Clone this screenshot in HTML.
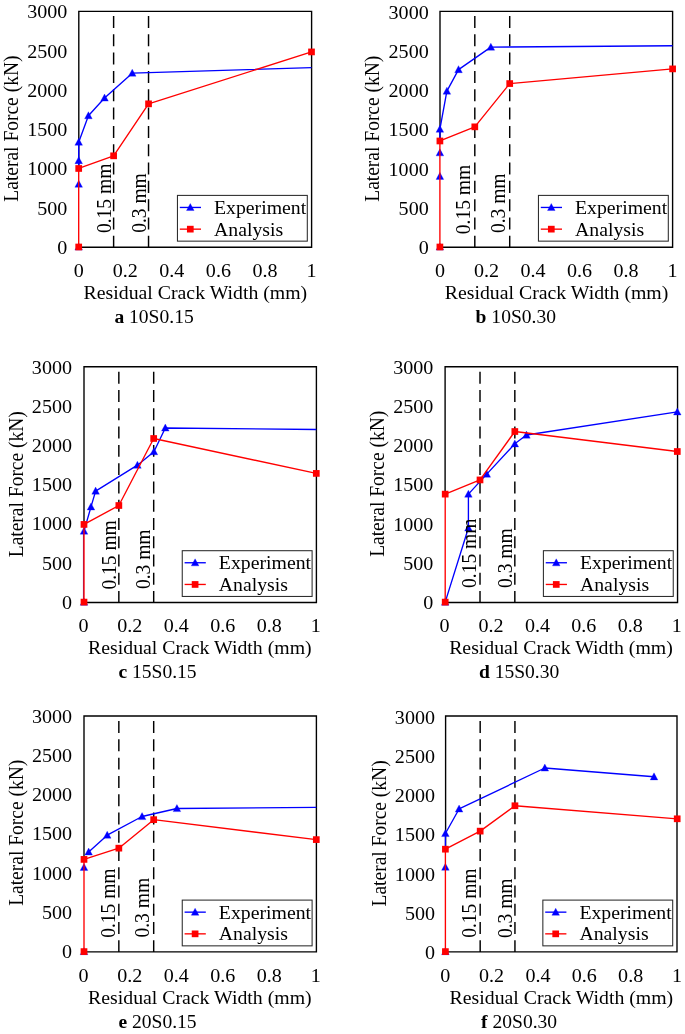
<!DOCTYPE html>
<html><head><meta charset="utf-8"><title>Figure</title>
<style>
html,body{margin:0;padding:0;background:#fff;}
svg{display:block;}
text{font-family:"Liberation Serif",serif;font-size:20px;fill:#000;}
</style></head><body>
<svg width="685" height="1034" viewBox="0 0 685 1034" style="will-change:transform">
<rect width="685" height="1034" fill="#fff"/>
<g id="panel-a">
<path d="M78.8 168.47 V11.4 H311.6 V247.2 H78.8" fill="none" stroke="#000" stroke-width="1.38" stroke-linejoin="miter"/>
<line x1="113.62" y1="15.9" x2="113.62" y2="247.2" stroke="#000" stroke-width="1.45" stroke-dasharray="12.01 6.32"/>
<line x1="148.54" y1="15.9" x2="148.54" y2="247.2" stroke="#000" stroke-width="1.45" stroke-dasharray="12.01 6.32"/>
<polyline points="78.7,168.47 78.7,160.61 78.7,142.16 88.41,115.69 104.54,98.02 132.24,73.13 311.5,67.63" fill="none" stroke="#0000ff" stroke-width="1.35" stroke-linejoin="round"/>
<path d="M74.9 250.1 L82.5 250.1 L78.7 243.05 Z" fill="#0000ff" stroke="#0000ff" stroke-width="0.3" stroke-linejoin="round"/>
<path d="M74.9 187.27 L82.5 187.27 L78.7 180.22 Z" fill="#0000ff" stroke="#0000ff" stroke-width="0.3" stroke-linejoin="round"/>
<path d="M74.9 163.71 L82.5 163.71 L78.7 156.66 Z" fill="#0000ff" stroke="#0000ff" stroke-width="0.3" stroke-linejoin="round"/>
<path d="M74.9 145.26 L82.5 145.26 L78.7 138.21 Z" fill="#0000ff" stroke="#0000ff" stroke-width="0.3" stroke-linejoin="round"/>
<path d="M84.61 118.79 L92.21 118.79 L88.41 111.74 Z" fill="#0000ff" stroke="#0000ff" stroke-width="0.3" stroke-linejoin="round"/>
<path d="M100.74 101.12 L108.34 101.12 L104.54 94.07 Z" fill="#0000ff" stroke="#0000ff" stroke-width="0.3" stroke-linejoin="round"/>
<path d="M128.44 76.23 L136.04 76.23 L132.24 69.18 Z" fill="#0000ff" stroke="#0000ff" stroke-width="0.3" stroke-linejoin="round"/>
<polyline points="78.7,247 78.7,168.47 113.62,155.82 148.54,103.83 311.5,51.92" fill="none" stroke="#ff0000" stroke-width="1.35" stroke-linejoin="round"/>
<rect x="75.35" y="243.65" width="6.7" height="6.7" fill="#ff0000"/>
<rect x="75.35" y="165.12" width="6.7" height="6.7" fill="#ff0000"/>
<rect x="110.27" y="152.47" width="6.7" height="6.7" fill="#ff0000"/>
<rect x="145.19" y="100.48" width="6.7" height="6.7" fill="#ff0000"/>
<rect x="308.15" y="48.57" width="6.7" height="6.7" fill="#ff0000"/>
<text transform="translate(110.82 233) rotate(-90) scale(1 1.045)" style="font-size:19.5px">0.15 mm</text>
<text transform="translate(145.54 232.8) rotate(-90) scale(1 1.045)" style="font-size:19.5px">0.3 mm</text>
<rect x="177.45" y="195.4" width="129.85" height="45.75" fill="#fff" stroke="#2a2a2a" stroke-width="1.05"/>
<line x1="179.8" y1="207.45" x2="201" y2="207.45" stroke="#0000ff" stroke-width="1.35"/>
<path d="M186.5 210.55 L194.1 210.55 L190.3 203.5 Z" fill="#0000ff" stroke="#0000ff" stroke-width="0.3" stroke-linejoin="round"/>
<line x1="179.8" y1="229.15" x2="201" y2="229.15" stroke="#ff0000" stroke-width="1.35"/>
<rect x="186.95" y="225.8" width="6.7" height="6.7" fill="#ff0000"/>
<text transform="translate(214 214.1) scale(1.03 1)" style="font-size:19.2px">Experiment</text>
<text transform="translate(214 235.75) scale(1.03 1)" style="font-size:19.2px">Analysis</text>
<text transform="translate(67.3 253.95) scale(1.03 1)" text-anchor="end" style="font-size:19.5px">0</text>
<text transform="translate(67.3 214.68) scale(1.03 1)" text-anchor="end" style="font-size:19.5px">500</text>
<text transform="translate(67.3 175.42) scale(1.03 1)" text-anchor="end" style="font-size:19.5px">1000</text>
<text transform="translate(67.3 136.15) scale(1.03 1)" text-anchor="end" style="font-size:19.5px">1500</text>
<text transform="translate(67.3 96.88) scale(1.03 1)" text-anchor="end" style="font-size:19.5px">2000</text>
<text transform="translate(67.3 57.62) scale(1.03 1)" text-anchor="end" style="font-size:19.5px">2500</text>
<text transform="translate(67.3 18.35) scale(1.03 1)" text-anchor="end" style="font-size:19.5px">3000</text>
<text transform="translate(78.7 276.5) scale(1.03 1)" text-anchor="middle" style="font-size:19.5px">0</text>
<text transform="translate(125.26 276.5) scale(1.03 1)" text-anchor="middle" style="font-size:19.5px">0.2</text>
<text transform="translate(171.82 276.5) scale(1.03 1)" text-anchor="middle" style="font-size:19.5px">0.4</text>
<text transform="translate(218.38 276.5) scale(1.03 1)" text-anchor="middle" style="font-size:19.5px">0.6</text>
<text transform="translate(264.94 276.5) scale(1.03 1)" text-anchor="middle" style="font-size:19.5px">0.8</text>
<text transform="translate(311.5 276.5) scale(1.03 1)" text-anchor="middle" style="font-size:19.5px">1</text>
<text transform="translate(195.4 298.7) scale(1.03 1)" text-anchor="middle" style="font-size:19.22px">Residual Crack Width (mm)</text>
<text transform="translate(17.7 128.6) rotate(-90) scale(1 1.045)" text-anchor="middle" style="font-size:19.5px">Lateral Force (kN)</text>
<text transform="translate(114.4 322.6) scale(1.03 1)" style="font-size:19.0px"><tspan font-weight="bold">a</tspan> 10S0.15</text>
</g>
<g id="panel-b">
<path d="M440 140.98 V11.4 H672.6 V247.2 H440" fill="none" stroke="#000" stroke-width="1.38" stroke-linejoin="miter"/>
<line x1="474.81" y1="15.9" x2="474.81" y2="247.2" stroke="#000" stroke-width="1.45" stroke-dasharray="12.01 6.32"/>
<line x1="509.71" y1="15.9" x2="509.71" y2="247.2" stroke="#000" stroke-width="1.45" stroke-dasharray="12.01 6.32"/>
<polyline points="439.9,140.98 439.9,129.2 446.88,91.11 458.52,69.59 490.86,47.13 672.6,45.72" fill="none" stroke="#0000ff" stroke-width="1.35" stroke-linejoin="round"/>
<path d="M436.1 250.1 L443.7 250.1 L439.9 243.05 Z" fill="#0000ff" stroke="#0000ff" stroke-width="0.3" stroke-linejoin="round"/>
<path d="M436.1 179.42 L443.7 179.42 L439.9 172.37 Z" fill="#0000ff" stroke="#0000ff" stroke-width="0.3" stroke-linejoin="round"/>
<path d="M436.1 155.86 L443.7 155.86 L439.9 148.81 Z" fill="#0000ff" stroke="#0000ff" stroke-width="0.3" stroke-linejoin="round"/>
<path d="M436.1 132.3 L443.7 132.3 L439.9 125.25 Z" fill="#0000ff" stroke="#0000ff" stroke-width="0.3" stroke-linejoin="round"/>
<path d="M443.08 94.21 L450.68 94.21 L446.88 87.16 Z" fill="#0000ff" stroke="#0000ff" stroke-width="0.3" stroke-linejoin="round"/>
<path d="M454.72 72.69 L462.32 72.69 L458.52 65.64 Z" fill="#0000ff" stroke="#0000ff" stroke-width="0.3" stroke-linejoin="round"/>
<path d="M487.06 50.23 L494.66 50.23 L490.86 43.18 Z" fill="#0000ff" stroke="#0000ff" stroke-width="0.3" stroke-linejoin="round"/>
<polyline points="439.9,247 439.9,140.98 474.81,126.84 509.71,83.57 672.6,68.89" fill="none" stroke="#ff0000" stroke-width="1.35" stroke-linejoin="round"/>
<rect x="436.55" y="243.65" width="6.7" height="6.7" fill="#ff0000"/>
<rect x="436.55" y="137.63" width="6.7" height="6.7" fill="#ff0000"/>
<rect x="471.45" y="123.49" width="6.7" height="6.7" fill="#ff0000"/>
<rect x="506.36" y="80.22" width="6.7" height="6.7" fill="#ff0000"/>
<rect x="669.25" y="65.54" width="6.7" height="6.7" fill="#ff0000"/>
<text transform="translate(470.2 234.2) rotate(-90) scale(1 1.045)" style="font-size:19.5px">0.15 mm</text>
<text transform="translate(504.51 233.1) rotate(-90) scale(1 1.045)" style="font-size:19.5px">0.3 mm</text>
<rect x="538.45" y="195.4" width="129.85" height="45.75" fill="#fff" stroke="#2a2a2a" stroke-width="1.05"/>
<line x1="540.8" y1="207.45" x2="562" y2="207.45" stroke="#0000ff" stroke-width="1.35"/>
<path d="M547.5 210.55 L555.1 210.55 L551.3 203.5 Z" fill="#0000ff" stroke="#0000ff" stroke-width="0.3" stroke-linejoin="round"/>
<line x1="540.8" y1="229.15" x2="562" y2="229.15" stroke="#ff0000" stroke-width="1.35"/>
<rect x="547.95" y="225.8" width="6.7" height="6.7" fill="#ff0000"/>
<text transform="translate(575 214.1) scale(1.03 1)" style="font-size:19.2px">Experiment</text>
<text transform="translate(575 235.75) scale(1.03 1)" style="font-size:19.2px">Analysis</text>
<text transform="translate(428.7 254.2) scale(1.03 1)" text-anchor="end" style="font-size:19.5px">0</text>
<text transform="translate(428.7 214.93) scale(1.03 1)" text-anchor="end" style="font-size:19.5px">500</text>
<text transform="translate(428.7 175.67) scale(1.03 1)" text-anchor="end" style="font-size:19.5px">1000</text>
<text transform="translate(428.7 136.4) scale(1.03 1)" text-anchor="end" style="font-size:19.5px">1500</text>
<text transform="translate(428.7 97.13) scale(1.03 1)" text-anchor="end" style="font-size:19.5px">2000</text>
<text transform="translate(428.7 57.87) scale(1.03 1)" text-anchor="end" style="font-size:19.5px">2500</text>
<text transform="translate(428.7 18.6) scale(1.03 1)" text-anchor="end" style="font-size:19.5px">3000</text>
<text transform="translate(439.9 276.5) scale(1.03 1)" text-anchor="middle" style="font-size:19.5px">0</text>
<text transform="translate(486.44 276.5) scale(1.03 1)" text-anchor="middle" style="font-size:19.5px">0.2</text>
<text transform="translate(532.98 276.5) scale(1.03 1)" text-anchor="middle" style="font-size:19.5px">0.4</text>
<text transform="translate(579.52 276.5) scale(1.03 1)" text-anchor="middle" style="font-size:19.5px">0.6</text>
<text transform="translate(626.06 276.5) scale(1.03 1)" text-anchor="middle" style="font-size:19.5px">0.8</text>
<text transform="translate(672.6 276.5) scale(1.03 1)" text-anchor="middle" style="font-size:19.5px">1</text>
<text transform="translate(556.55 298.7) scale(1.03 1)" text-anchor="middle" style="font-size:19.22px">Residual Crack Width (mm)</text>
<text transform="translate(378.9 128.7) rotate(-90) scale(1 1.045)" text-anchor="middle" style="font-size:19.5px">Lateral Force (kN)</text>
<text transform="translate(475.6 322.6) scale(1.03 1)" style="font-size:19.0px"><tspan font-weight="bold">b</tspan> 10S0.30</text>
</g>
<g id="panel-c">
<path d="M84 524.42 V366.7 H316.4 V602.5 H84" fill="none" stroke="#000" stroke-width="1.38" stroke-linejoin="miter"/>
<line x1="118.84" y1="371.8" x2="118.84" y2="602.5" stroke="#000" stroke-width="1.45" stroke-dasharray="11.97 6.3"/>
<line x1="153.69" y1="371.8" x2="153.69" y2="602.5" stroke="#000" stroke-width="1.45" stroke-dasharray="11.97 6.3"/>
<line x1="83.45" y1="602.1" x2="83.45" y2="531.09" stroke="#3a0a8a" stroke-width="0.9"/>
<polyline points="84,531.09 90.97,506.92 95.62,491.07 137.43,465.18 153.92,451.68 165.31,427.98 316.3,429.47" fill="none" stroke="#0000ff" stroke-width="1.35" stroke-linejoin="round"/>
<path d="M80.2 605.2 L87.8 605.2 L84 598.15 Z" fill="#0000ff" stroke="#0000ff" stroke-width="0.3" stroke-linejoin="round"/>
<path d="M80.2 534.19 L87.8 534.19 L84 527.14 Z" fill="#0000ff" stroke="#0000ff" stroke-width="0.3" stroke-linejoin="round"/>
<path d="M87.17 510.02 L94.77 510.02 L90.97 502.97 Z" fill="#0000ff" stroke="#0000ff" stroke-width="0.3" stroke-linejoin="round"/>
<path d="M91.82 494.17 L99.42 494.17 L95.62 487.12 Z" fill="#0000ff" stroke="#0000ff" stroke-width="0.3" stroke-linejoin="round"/>
<path d="M133.63 468.28 L141.23 468.28 L137.43 461.23 Z" fill="#0000ff" stroke="#0000ff" stroke-width="0.3" stroke-linejoin="round"/>
<path d="M150.12 454.78 L157.72 454.78 L153.92 447.73 Z" fill="#0000ff" stroke="#0000ff" stroke-width="0.3" stroke-linejoin="round"/>
<path d="M161.5 431.08 L169.11 431.08 L165.31 424.03 Z" fill="#0000ff" stroke="#0000ff" stroke-width="0.3" stroke-linejoin="round"/>
<polyline points="84,602.1 84,524.42 118.84,505.51 153.69,438.5 316.3,473.41" fill="none" stroke="#ff0000" stroke-width="1.35" stroke-linejoin="round"/>
<rect x="80.65" y="598.75" width="6.7" height="6.7" fill="#ff0000"/>
<rect x="80.65" y="521.07" width="6.7" height="6.7" fill="#ff0000"/>
<rect x="115.5" y="502.16" width="6.7" height="6.7" fill="#ff0000"/>
<rect x="150.34" y="435.15" width="6.7" height="6.7" fill="#ff0000"/>
<rect x="312.95" y="470.06" width="6.7" height="6.7" fill="#ff0000"/>
<text transform="translate(116.14 589.6) rotate(-90) scale(1 1.045)" style="font-size:19.5px">0.15 mm</text>
<text transform="translate(150.29 589.1) rotate(-90) scale(1 1.045)" style="font-size:19.5px">0.3 mm</text>
<rect x="182.25" y="550.7" width="129.85" height="45.75" fill="#fff" stroke="#2a2a2a" stroke-width="1.05"/>
<line x1="184.6" y1="562.75" x2="205.8" y2="562.75" stroke="#0000ff" stroke-width="1.35"/>
<path d="M191.3 565.85 L198.9 565.85 L195.1 558.8 Z" fill="#0000ff" stroke="#0000ff" stroke-width="0.3" stroke-linejoin="round"/>
<line x1="184.6" y1="584.45" x2="205.8" y2="584.45" stroke="#ff0000" stroke-width="1.35"/>
<rect x="191.75" y="581.1" width="6.7" height="6.7" fill="#ff0000"/>
<text transform="translate(218.8 569.4) scale(1.03 1)" style="font-size:19.2px">Experiment</text>
<text transform="translate(218.8 591.05) scale(1.03 1)" style="font-size:19.2px">Analysis</text>
<text transform="translate(72 608.9) scale(1.03 1)" text-anchor="end" style="font-size:19.5px">0</text>
<text transform="translate(72 569.67) scale(1.03 1)" text-anchor="end" style="font-size:19.5px">500</text>
<text transform="translate(72 530.43) scale(1.03 1)" text-anchor="end" style="font-size:19.5px">1000</text>
<text transform="translate(72 491.2) scale(1.03 1)" text-anchor="end" style="font-size:19.5px">1500</text>
<text transform="translate(72 451.97) scale(1.03 1)" text-anchor="end" style="font-size:19.5px">2000</text>
<text transform="translate(72 412.73) scale(1.03 1)" text-anchor="end" style="font-size:19.5px">2500</text>
<text transform="translate(72 373.5) scale(1.03 1)" text-anchor="end" style="font-size:19.5px">3000</text>
<text transform="translate(83.4 631.9) scale(1.03 1)" text-anchor="middle" style="font-size:19.5px">0</text>
<text transform="translate(129.86 631.9) scale(1.03 1)" text-anchor="middle" style="font-size:19.5px">0.2</text>
<text transform="translate(176.32 631.9) scale(1.03 1)" text-anchor="middle" style="font-size:19.5px">0.4</text>
<text transform="translate(222.78 631.9) scale(1.03 1)" text-anchor="middle" style="font-size:19.5px">0.6</text>
<text transform="translate(269.24 631.9) scale(1.03 1)" text-anchor="middle" style="font-size:19.5px">0.8</text>
<text transform="translate(315.7 631.9) scale(1.03 1)" text-anchor="middle" style="font-size:19.5px">1</text>
<text transform="translate(199.85 654.1) scale(1.03 1)" text-anchor="middle" style="font-size:19.22px">Residual Crack Width (mm)</text>
<text transform="translate(23 484.2) rotate(-90) scale(1 1.045)" text-anchor="middle" style="font-size:19.5px">Lateral Force (kN)</text>
<text transform="translate(118.4 677.7) scale(1.03 1)" style="font-size:19.0px"><tspan font-weight="bold">c</tspan> 15S0.15</text>
</g>
<g id="panel-d">
<path d="M445.1 494.13 V366.7 H677.55 V602.5 H445.1" fill="none" stroke="#000" stroke-width="1.38" stroke-linejoin="miter"/>
<line x1="480.01" y1="371.8" x2="480.01" y2="602.5" stroke="#000" stroke-width="1.45" stroke-dasharray="11.97 6.3"/>
<line x1="514.83" y1="371.8" x2="514.83" y2="602.5" stroke="#000" stroke-width="1.45" stroke-dasharray="11.97 6.3"/>
<polyline points="445.2,602.1 468.41,527.95 468.41,494.13 486.75,474.12 514.83,443.83 526.43,435.04 677.3,411.9" fill="none" stroke="#0000ff" stroke-width="1.35" stroke-linejoin="round"/>
<path d="M441.4 605.2 L449 605.2 L445.2 598.15 Z" fill="#0000ff" stroke="#0000ff" stroke-width="0.3" stroke-linejoin="round"/>
<path d="M464.61 531.05 L472.21 531.05 L468.41 524 Z" fill="#0000ff" stroke="#0000ff" stroke-width="0.3" stroke-linejoin="round"/>
<path d="M464.61 497.23 L472.21 497.23 L468.41 490.18 Z" fill="#0000ff" stroke="#0000ff" stroke-width="0.3" stroke-linejoin="round"/>
<path d="M482.95 477.22 L490.55 477.22 L486.75 470.17 Z" fill="#0000ff" stroke="#0000ff" stroke-width="0.3" stroke-linejoin="round"/>
<path d="M511.03 446.93 L518.63 446.93 L514.83 439.88 Z" fill="#0000ff" stroke="#0000ff" stroke-width="0.3" stroke-linejoin="round"/>
<path d="M522.63 438.14 L530.23 438.14 L526.43 431.09 Z" fill="#0000ff" stroke="#0000ff" stroke-width="0.3" stroke-linejoin="round"/>
<path d="M673.5 415 L681.1 415 L677.3 407.95 Z" fill="#0000ff" stroke="#0000ff" stroke-width="0.3" stroke-linejoin="round"/>
<polyline points="445.2,602.1 445.2,494.13 480.01,479.93 514.83,431.51 677.3,451.52" fill="none" stroke="#ff0000" stroke-width="1.35" stroke-linejoin="round"/>
<rect x="441.85" y="598.75" width="6.7" height="6.7" fill="#ff0000"/>
<rect x="441.85" y="490.78" width="6.7" height="6.7" fill="#ff0000"/>
<rect x="476.66" y="476.58" width="6.7" height="6.7" fill="#ff0000"/>
<rect x="511.48" y="428.16" width="6.7" height="6.7" fill="#ff0000"/>
<rect x="673.95" y="448.17" width="6.7" height="6.7" fill="#ff0000"/>
<text transform="translate(475.81 587.9) rotate(-90) scale(1 1.045)" style="font-size:19.5px">0.15 mm</text>
<text transform="translate(511.98 587.9) rotate(-90) scale(1 1.045)" style="font-size:19.5px">0.3 mm</text>
<rect x="543.4" y="550.7" width="129.85" height="45.75" fill="#fff" stroke="#2a2a2a" stroke-width="1.05"/>
<line x1="545.75" y1="562.75" x2="566.95" y2="562.75" stroke="#0000ff" stroke-width="1.35"/>
<path d="M552.45 565.85 L560.05 565.85 L556.25 558.8 Z" fill="#0000ff" stroke="#0000ff" stroke-width="0.3" stroke-linejoin="round"/>
<line x1="545.75" y1="584.45" x2="566.95" y2="584.45" stroke="#ff0000" stroke-width="1.35"/>
<rect x="552.9" y="581.1" width="6.7" height="6.7" fill="#ff0000"/>
<text transform="translate(579.95 569.4) scale(1.03 1)" style="font-size:19.2px">Experiment</text>
<text transform="translate(579.95 591.05) scale(1.03 1)" style="font-size:19.2px">Analysis</text>
<text transform="translate(433.3 609) scale(1.03 1)" text-anchor="end" style="font-size:19.5px">0</text>
<text transform="translate(433.3 569.77) scale(1.03 1)" text-anchor="end" style="font-size:19.5px">500</text>
<text transform="translate(433.3 530.53) scale(1.03 1)" text-anchor="end" style="font-size:19.5px">1000</text>
<text transform="translate(433.3 491.3) scale(1.03 1)" text-anchor="end" style="font-size:19.5px">1500</text>
<text transform="translate(433.3 452.07) scale(1.03 1)" text-anchor="end" style="font-size:19.5px">2000</text>
<text transform="translate(433.3 412.83) scale(1.03 1)" text-anchor="end" style="font-size:19.5px">2500</text>
<text transform="translate(433.3 373.6) scale(1.03 1)" text-anchor="end" style="font-size:19.5px">3000</text>
<text transform="translate(444.6 631.9) scale(1.03 1)" text-anchor="middle" style="font-size:19.5px">0</text>
<text transform="translate(491.02 631.9) scale(1.03 1)" text-anchor="middle" style="font-size:19.5px">0.2</text>
<text transform="translate(537.44 631.9) scale(1.03 1)" text-anchor="middle" style="font-size:19.5px">0.4</text>
<text transform="translate(583.86 631.9) scale(1.03 1)" text-anchor="middle" style="font-size:19.5px">0.6</text>
<text transform="translate(630.28 631.9) scale(1.03 1)" text-anchor="middle" style="font-size:19.5px">0.8</text>
<text transform="translate(676.7 631.9) scale(1.03 1)" text-anchor="middle" style="font-size:19.5px">1</text>
<text transform="translate(560.95 654.1) scale(1.03 1)" text-anchor="middle" style="font-size:19.22px">Residual Crack Width (mm)</text>
<text transform="translate(384.2 483.8) rotate(-90) scale(1 1.045)" text-anchor="middle" style="font-size:19.5px">Lateral Force (kN)</text>
<text transform="translate(478.9 677.7) scale(1.03 1)" style="font-size:19.0px"><tspan font-weight="bold">d</tspan> 15S0.30</text>
</g>
<g id="panel-e">
<path d="M84 859.4 V716 H316.4 V951.9 H84" fill="none" stroke="#000" stroke-width="1.38" stroke-linejoin="miter"/>
<line x1="118.84" y1="721.1" x2="118.84" y2="951.9" stroke="#000" stroke-width="1.45" stroke-dasharray="11.97 6.3"/>
<line x1="153.69" y1="721.1" x2="153.69" y2="951.9" stroke="#000" stroke-width="1.45" stroke-dasharray="11.97 6.3"/>
<polyline points="88.65,852.02 107.23,835.14 142.07,816.52 176.92,808.51 316.3,807.33" fill="none" stroke="#0000ff" stroke-width="1.35" stroke-linejoin="round"/>
<path d="M80.2 954.7 L87.8 954.7 L84 947.65 Z" fill="#0000ff" stroke="#0000ff" stroke-width="0.3" stroke-linejoin="round"/>
<path d="M80.2 870.43 L87.8 870.43 L84 863.38 Z" fill="#0000ff" stroke="#0000ff" stroke-width="0.3" stroke-linejoin="round"/>
<path d="M84.85 855.12 L92.45 855.12 L88.65 848.07 Z" fill="#0000ff" stroke="#0000ff" stroke-width="0.3" stroke-linejoin="round"/>
<path d="M103.43 838.24 L111.03 838.24 L107.23 831.19 Z" fill="#0000ff" stroke="#0000ff" stroke-width="0.3" stroke-linejoin="round"/>
<path d="M138.27 819.62 L145.88 819.62 L142.07 812.57 Z" fill="#0000ff" stroke="#0000ff" stroke-width="0.3" stroke-linejoin="round"/>
<path d="M173.12 811.61 L180.72 811.61 L176.92 804.56 Z" fill="#0000ff" stroke="#0000ff" stroke-width="0.3" stroke-linejoin="round"/>
<polyline points="84,951.6 84,859.4 118.84,848.17 153.69,819.66 316.3,839.61" fill="none" stroke="#ff0000" stroke-width="1.35" stroke-linejoin="round"/>
<rect x="80.65" y="948.25" width="6.7" height="6.7" fill="#ff0000"/>
<rect x="80.65" y="856.05" width="6.7" height="6.7" fill="#ff0000"/>
<rect x="115.5" y="844.82" width="6.7" height="6.7" fill="#ff0000"/>
<rect x="150.34" y="816.31" width="6.7" height="6.7" fill="#ff0000"/>
<rect x="312.95" y="836.26" width="6.7" height="6.7" fill="#ff0000"/>
<text transform="translate(115.44 937.8) rotate(-90) scale(1 1.045)" style="font-size:19.5px">0.15 mm</text>
<text transform="translate(149.34 937.5) rotate(-90) scale(1 1.045)" style="font-size:19.5px">0.3 mm</text>
<rect x="182.25" y="900.1" width="129.85" height="45.75" fill="#fff" stroke="#2a2a2a" stroke-width="1.05"/>
<line x1="184.6" y1="912.15" x2="205.8" y2="912.15" stroke="#0000ff" stroke-width="1.35"/>
<path d="M191.3 915.25 L198.9 915.25 L195.1 908.2 Z" fill="#0000ff" stroke="#0000ff" stroke-width="0.3" stroke-linejoin="round"/>
<line x1="184.6" y1="933.85" x2="205.8" y2="933.85" stroke="#ff0000" stroke-width="1.35"/>
<rect x="191.75" y="930.5" width="6.7" height="6.7" fill="#ff0000"/>
<text transform="translate(218.8 918.8) scale(1.03 1)" style="font-size:19.2px">Experiment</text>
<text transform="translate(218.8 940.45) scale(1.03 1)" style="font-size:19.2px">Analysis</text>
<text transform="translate(72.1 958.2) scale(1.03 1)" text-anchor="end" style="font-size:19.5px">0</text>
<text transform="translate(72.1 918.93) scale(1.03 1)" text-anchor="end" style="font-size:19.5px">500</text>
<text transform="translate(72.1 879.67) scale(1.03 1)" text-anchor="end" style="font-size:19.5px">1000</text>
<text transform="translate(72.1 840.4) scale(1.03 1)" text-anchor="end" style="font-size:19.5px">1500</text>
<text transform="translate(72.1 801.13) scale(1.03 1)" text-anchor="end" style="font-size:19.5px">2000</text>
<text transform="translate(72.1 761.87) scale(1.03 1)" text-anchor="end" style="font-size:19.5px">2500</text>
<text transform="translate(72.1 722.6) scale(1.03 1)" text-anchor="end" style="font-size:19.5px">3000</text>
<text transform="translate(83.4 981.7) scale(1.03 1)" text-anchor="middle" style="font-size:19.5px">0</text>
<text transform="translate(129.86 981.7) scale(1.03 1)" text-anchor="middle" style="font-size:19.5px">0.2</text>
<text transform="translate(176.32 981.7) scale(1.03 1)" text-anchor="middle" style="font-size:19.5px">0.4</text>
<text transform="translate(222.78 981.7) scale(1.03 1)" text-anchor="middle" style="font-size:19.5px">0.6</text>
<text transform="translate(269.24 981.7) scale(1.03 1)" text-anchor="middle" style="font-size:19.5px">0.8</text>
<text transform="translate(315.7 981.7) scale(1.03 1)" text-anchor="middle" style="font-size:19.5px">1</text>
<text transform="translate(199.85 1003.9) scale(1.03 1)" text-anchor="middle" style="font-size:19.22px">Residual Crack Width (mm)</text>
<text transform="translate(23 832.8) rotate(-90) scale(1 1.045)" text-anchor="middle" style="font-size:19.5px">Lateral Force (kN)</text>
<text transform="translate(118.4 1027.9) scale(1.03 1)" style="font-size:19.0px"><tspan font-weight="bold">e</tspan> 20S0.15</text>
</g>
<g id="panel-f">
<path d="M445.6 849.19 V716 H677 V951.9 H445.6" fill="none" stroke="#000" stroke-width="1.38" stroke-linejoin="miter"/>
<line x1="480.17" y1="721.1" x2="480.17" y2="951.9" stroke="#000" stroke-width="1.45" stroke-dasharray="11.96 6.3"/>
<line x1="514.94" y1="721.1" x2="514.94" y2="951.9" stroke="#000" stroke-width="1.45" stroke-dasharray="11.96 6.3"/>
<polyline points="445.4,849.19 445.4,833.49 459.08,808.98 544.84,767.99 654.02,776.78" fill="none" stroke="#0000ff" stroke-width="1.35" stroke-linejoin="round"/>
<path d="M441.6 954.7 L449.2 954.7 L445.4 947.65 Z" fill="#0000ff" stroke="#0000ff" stroke-width="0.3" stroke-linejoin="round"/>
<path d="M441.6 870.28 L449.2 870.28 L445.4 863.23 Z" fill="#0000ff" stroke="#0000ff" stroke-width="0.3" stroke-linejoin="round"/>
<path d="M441.6 836.59 L449.2 836.59 L445.4 829.54 Z" fill="#0000ff" stroke="#0000ff" stroke-width="0.3" stroke-linejoin="round"/>
<path d="M455.28 812.08 L462.88 812.08 L459.08 805.03 Z" fill="#0000ff" stroke="#0000ff" stroke-width="0.3" stroke-linejoin="round"/>
<path d="M541.04 771.09 L548.64 771.09 L544.84 764.04 Z" fill="#0000ff" stroke="#0000ff" stroke-width="0.3" stroke-linejoin="round"/>
<path d="M650.22 779.88 L657.82 779.88 L654.02 772.83 Z" fill="#0000ff" stroke="#0000ff" stroke-width="0.3" stroke-linejoin="round"/>
<polyline points="445.4,951.6 445.4,849.19 480.17,831.13 514.94,805.76 677.2,818.8" fill="none" stroke="#ff0000" stroke-width="1.35" stroke-linejoin="round"/>
<rect x="442.05" y="948.25" width="6.7" height="6.7" fill="#ff0000"/>
<rect x="442.05" y="845.84" width="6.7" height="6.7" fill="#ff0000"/>
<rect x="476.82" y="827.78" width="6.7" height="6.7" fill="#ff0000"/>
<rect x="511.59" y="802.41" width="6.7" height="6.7" fill="#ff0000"/>
<rect x="673.85" y="815.45" width="6.7" height="6.7" fill="#ff0000"/>
<text transform="translate(476.17 937.8) rotate(-90) scale(1 1.045)" style="font-size:19.5px">0.15 mm</text>
<text transform="translate(512.24 938.1) rotate(-90) scale(1 1.045)" style="font-size:19.5px">0.3 mm</text>
<rect x="542.85" y="900.1" width="129.85" height="45.75" fill="#fff" stroke="#2a2a2a" stroke-width="1.05"/>
<line x1="545.2" y1="912.15" x2="566.4" y2="912.15" stroke="#0000ff" stroke-width="1.35"/>
<path d="M551.9 915.25 L559.5 915.25 L555.7 908.2 Z" fill="#0000ff" stroke="#0000ff" stroke-width="0.3" stroke-linejoin="round"/>
<line x1="545.2" y1="933.85" x2="566.4" y2="933.85" stroke="#ff0000" stroke-width="1.35"/>
<rect x="552.35" y="930.5" width="6.7" height="6.7" fill="#ff0000"/>
<text transform="translate(579.4 918.8) scale(1.03 1)" style="font-size:19.2px">Experiment</text>
<text transform="translate(579.4 940.45) scale(1.03 1)" style="font-size:19.2px">Analysis</text>
<text transform="translate(435 959.2) scale(1.03 1)" text-anchor="end" style="font-size:19.5px">0</text>
<text transform="translate(435 919.93) scale(1.03 1)" text-anchor="end" style="font-size:19.5px">500</text>
<text transform="translate(435 880.67) scale(1.03 1)" text-anchor="end" style="font-size:19.5px">1000</text>
<text transform="translate(435 841.4) scale(1.03 1)" text-anchor="end" style="font-size:19.5px">1500</text>
<text transform="translate(435 802.13) scale(1.03 1)" text-anchor="end" style="font-size:19.5px">2000</text>
<text transform="translate(435 762.87) scale(1.03 1)" text-anchor="end" style="font-size:19.5px">2500</text>
<text transform="translate(435 723.6) scale(1.03 1)" text-anchor="end" style="font-size:19.5px">3000</text>
<text transform="translate(445.2 981.7) scale(1.03 1)" text-anchor="middle" style="font-size:19.5px">0</text>
<text transform="translate(491.56 981.7) scale(1.03 1)" text-anchor="middle" style="font-size:19.5px">0.2</text>
<text transform="translate(537.92 981.7) scale(1.03 1)" text-anchor="middle" style="font-size:19.5px">0.4</text>
<text transform="translate(584.28 981.7) scale(1.03 1)" text-anchor="middle" style="font-size:19.5px">0.6</text>
<text transform="translate(630.64 981.7) scale(1.03 1)" text-anchor="middle" style="font-size:19.5px">0.8</text>
<text transform="translate(677 981.7) scale(1.03 1)" text-anchor="middle" style="font-size:19.5px">1</text>
<text transform="translate(561.4 1003.9) scale(1.03 1)" text-anchor="middle" style="font-size:19.22px">Residual Crack Width (mm)</text>
<text transform="translate(385.5 833.4) rotate(-90) scale(1 1.045)" text-anchor="middle" style="font-size:19.5px">Lateral Force (kN)</text>
<text transform="translate(481.1 1027.9) scale(1.03 1)" style="font-size:19.0px"><tspan font-weight="bold">f</tspan> 20S0.30</text>
</g>
</svg>
</body></html>
